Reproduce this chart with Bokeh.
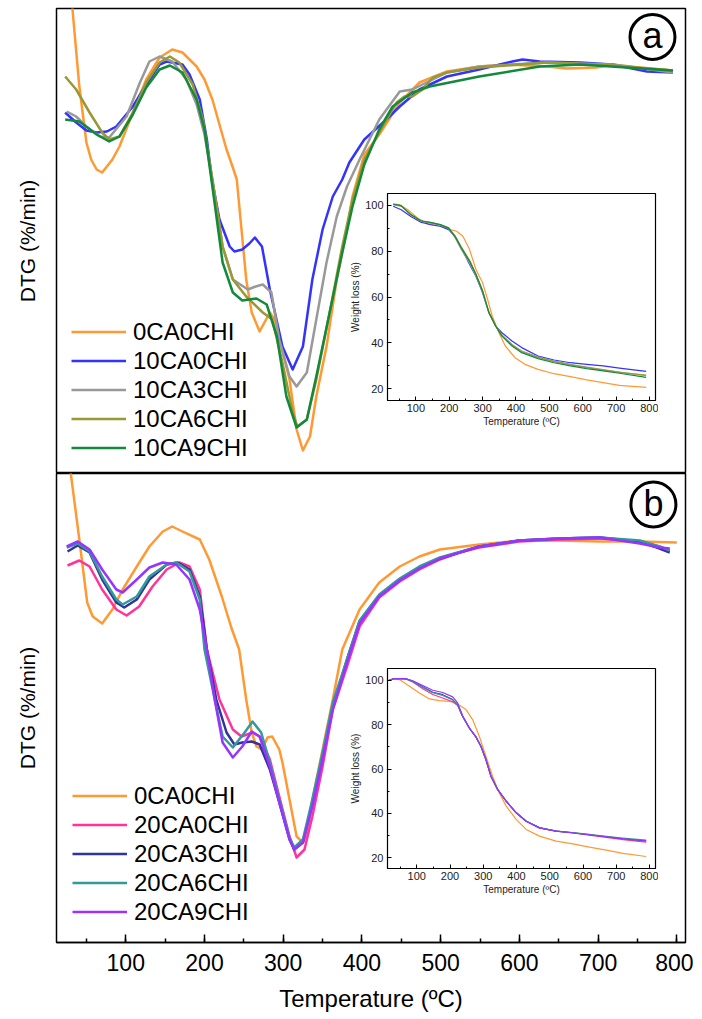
from bokeh.plotting import figure
from bokeh.models import (GridBox, Legend, LegendItem, FixedTicker,
                          SingleIntervalTicker, Range1d)
from bokeh.embed import file_html
from bokeh.resources import INLINE
from bokeh.core.properties import value

FONT = "Liberation Sans"

# ---------------- panel (a): DTG, arbitrary units ----------------
a_labels = ["0CA0CHI", "10CA0CHI", "10CA3CHI", "10CA6CHI", "10CA9CHI"]
a_colors = ["#FF9933", "#3333FF", "#999999", "#999933", "#138A3B"]

T_a_0CA0CHI = [31, 32, 41, 50, 56, 63, 70, 83, 92, 109, 126, 143, 159, 172, 190, 200, 210, 219, 228, 236, 241, 247, 253, 260, 270, 283, 289, 308, 317, 325, 334, 342, 355, 368, 381, 388, 403, 422, 448, 473, 508, 549, 584, 635, 660, 698, 718, 753, 795]
D_a_0CA0CHI = [484, 467, 387, 331, 314, 304, 301, 314, 327, 361, 394, 416, 424, 421, 407, 394, 374, 349, 324, 306, 294, 244, 194, 161, 142, 161, 154, 94, 44, 23, 37, 77, 127, 194, 244, 277, 319, 339, 371, 391, 402, 407, 409, 407, 405, 406, 409, 406, 403]

T_a_10CA0CHI = [23, 37, 50, 63, 76, 88, 109, 126, 143, 152, 172, 181, 194, 203, 209, 219, 232, 238, 248, 257, 264, 273, 283, 299, 312, 325, 337, 350, 363, 375, 384, 403, 431, 448, 473, 508, 549, 591, 604, 626, 677, 718, 762, 795]
D_a_10CA0CHI = [361, 351, 343, 341, 342, 347, 367, 389, 409, 412, 409, 399, 374, 334, 296, 254, 227, 222, 224, 230, 236, 227, 184, 127, 104, 127, 194, 244, 277, 294, 311, 334, 354, 367, 384, 397, 404, 412, 414, 412, 411, 409, 402, 401]

T_a_10CA3CHI = [25, 37, 50, 67, 79, 101, 118, 130, 143, 159, 177, 190, 200, 210, 223, 236, 255, 265, 274, 285, 295, 308, 317, 330, 342, 355, 368, 381, 397, 422, 448, 464, 508, 549, 635, 718, 795]
D_a_10CA3CHI = [362, 357, 347, 337, 336, 357, 391, 412, 417, 412, 394, 369, 339, 294, 227, 194, 184, 187, 189, 181, 134, 97, 87, 101, 154, 211, 257, 287, 314, 354, 382, 384, 401, 407, 411, 409, 401]

T_a_10CA6CHI = [23, 37, 54, 70, 79, 92, 109, 126, 143, 156, 168, 185, 198, 210, 223, 236, 253, 274, 286, 299, 312, 318, 330, 342, 359, 375, 388, 403, 422, 444, 454, 464, 477, 490, 508, 549, 635, 718, 795]
D_a_10CA6CHI = [397, 384, 361, 341, 334, 337, 361, 391, 411, 417, 411, 389, 354, 294, 227, 194, 177, 161, 154, 111, 61, 47, 54, 94, 161, 227, 274, 314, 341, 371, 377, 377, 384, 396, 401, 406, 411, 408, 403]

T_a_10CA9CHI = [23, 41, 63, 79, 92, 109, 126, 143, 156, 172, 190, 200, 210, 223, 236, 248, 257, 266, 279, 292, 304, 317, 330, 342, 359, 375, 388, 403, 422, 439, 464, 486, 549, 626, 677, 795]
D_a_10CA9CHI = [354, 352, 339, 332, 337, 359, 386, 404, 408, 401, 374, 344, 287, 211, 181, 173, 174, 175, 169, 137, 77, 46, 54, 97, 161, 221, 267, 309, 344, 367, 381, 387, 397, 407, 409, 403]

# ---------------- panel (b): DTG, arbitrary units ----------------
b_labels = ["0CA0CHI", "20CA0CHI", "20CA3CHI", "20CA6CHI", "20CA9CHI"]
b_colors = ["#FF9933", "#FF3399", "#333399", "#339999", "#9933FF"]

T_b_0CA0CHI = [29, 30, 41, 51, 58, 70, 83, 96, 114, 130, 147, 159, 172, 194, 206, 222, 234, 244, 253, 260, 266, 273, 280, 286, 295, 299, 308, 317, 325, 330, 337, 350, 363, 375, 397, 422, 448, 473, 499, 549, 600, 651, 702, 753, 800]
D_b_0CA0CHI = [493, 470, 403, 340, 326, 319, 333, 353, 376, 396, 411, 416, 411, 403, 383, 346, 315, 293, 243, 210, 196, 193, 205, 206, 193, 180, 143, 106, 100, 106, 143, 193, 243, 293, 333, 360, 376, 386, 393, 398, 402, 402, 401, 401, 400]

T_b_20CA0CHI = [26, 41, 54, 70, 88, 101, 117, 134, 152, 168, 181, 194, 203, 219, 236, 247, 261, 270, 283, 295, 308, 317, 327, 337, 350, 363, 381, 397, 422, 448, 473, 499, 524, 549, 600, 651, 702, 753, 778, 791]
D_b_20CA0CHI = [377, 382, 376, 353, 333, 327, 336, 356, 373, 380, 376, 353, 293, 243, 213, 206, 210, 206, 183, 146, 106, 85, 93, 126, 176, 233, 276, 316, 345, 361, 373, 383, 390, 395, 401, 403, 404, 401, 396, 392]

T_b_20CA3CHI = [26, 39, 54, 70, 88, 98, 114, 130, 152, 166, 181, 194, 203, 215, 228, 238, 248, 260, 270, 283, 295, 308, 314, 325, 337, 350, 363, 381, 397, 422, 448, 473, 499, 549, 600, 651, 702, 753, 778, 791]
D_b_20CA3CHI = [391, 397, 390, 363, 340, 335, 343, 363, 378, 380, 373, 346, 293, 243, 210, 198, 200, 201, 198, 173, 140, 103, 93, 100, 140, 186, 236, 283, 321, 347, 363, 375, 384, 396, 402, 404, 405, 401, 394, 390]

T_b_20CA6CHI = [25, 39, 54, 70, 88, 96, 114, 130, 152, 164, 181, 194, 200, 213, 223, 236, 251, 261, 272, 283, 295, 308, 314, 325, 337, 350, 363, 381, 397, 422, 448, 473, 499, 549, 600, 651, 702, 753, 778, 791]
D_b_20CA6CHI = [395, 399, 391, 366, 343, 338, 346, 366, 378, 380, 371, 343, 293, 243, 206, 195, 210, 221, 210, 180, 143, 105, 95, 103, 143, 190, 240, 283, 322, 348, 364, 376, 385, 396, 402, 404, 405, 402, 396, 392]

T_b_20CA9CHI = [25, 39, 54, 70, 88, 96, 114, 130, 147, 164, 181, 194, 203, 213, 223, 236, 248, 260, 270, 283, 295, 308, 314, 325, 337, 350, 363, 381, 397, 422, 448, 473, 499, 549, 600, 651, 702, 753, 778, 791]
D_b_20CA9CHI = [396, 401, 393, 373, 353, 350, 363, 375, 380, 378, 363, 333, 293, 243, 200, 185, 196, 211, 206, 176, 140, 103, 93, 100, 136, 183, 233, 280, 319, 346, 362, 374, 384, 396, 402, 404, 405, 399, 395, 394]

# ---------------- inset (a): weight loss (%) ----------------
Ti_a_0CA0CHI = [32, 51, 76, 105, 134, 173, 198, 222, 241, 261, 280, 300, 315, 329, 349, 368, 397, 427, 466, 514, 563, 612, 661, 710, 790]
W_a_0CA0CHI = [100.6, 100.3, 98.1, 94.5, 92.0, 90.9, 89.7, 88.7, 86.5, 80.7, 72.0, 66.2, 58.9, 51.6, 44.4, 38.6, 33.5, 30.6, 28.4, 26.5, 25.2, 23.8, 22.6, 21.4, 20.5]
Ti_a_10CA = [32, 56, 85, 115, 144, 173, 198, 217, 236, 261, 280, 300, 319, 339, 358, 388, 417, 466, 514, 563, 612, 661, 710, 790]
W_a_10CA0CHI = [99.6, 98.1, 95.2, 92.7, 91.6, 90.9, 89.4, 86.5, 81.5, 74.2, 69.1, 61.8, 53.1, 47.3, 44.4, 40.8, 37.9, 34.2, 32.5, 31.3, 30.6, 29.9, 28.9, 27.5]
W_a_10CA3CHI = [100.3, 99.7, 95.8, 93.1, 92.3, 91.4, 89.9, 86.0, 80.8, 74.8, 69.2, 62.0, 53.0, 47.5, 43.4, 39.3, 36.4, 33.9, 32.0, 30.6, 29.4, 28.3, 27.2, 25.6]
W_a_10CA6CHI = [100.4, 99.8, 95.9, 93.2, 92.5, 91.6, 90.3, 86.8, 81.9, 76.0, 70.2, 62.8, 53.4, 47.4, 43.2, 39.0, 36.1, 33.6, 31.8, 30.3, 29.2, 28.1, 27.1, 25.9]
W_a_10CA9CHI = [100.6, 99.9, 96.0, 93.3, 92.6, 91.6, 90.1, 86.5, 81.5, 75.6, 69.8, 62.5, 53.1, 47.3, 42.9, 38.6, 35.7, 33.1, 31.3, 29.9, 28.7, 27.7, 26.7, 24.9]

# ---------------- inset (b): weight loss (%) ----------------
Ti_b_0CA0CHI = [13, 28, 48, 78, 108, 138, 168, 198, 218, 248, 268, 288, 308, 328, 348, 369, 399, 429, 469, 519, 569, 619, 670, 720, 790]
W_b_0CA0CHI = [100.0, 100.6, 100.3, 97.3, 94.3, 91.6, 90.8, 90.5, 89.8, 86.8, 82.3, 74.8, 65.8, 56.8, 49.3, 43.3, 37.3, 32.8, 29.8, 27.5, 26.3, 24.8, 23.5, 22.0, 20.6]
Ti_b_20CA = [18, 33, 68, 88, 118, 148, 178, 208, 223, 238, 258, 278, 293, 308, 323, 343, 369, 399, 429, 469, 519, 569, 619, 670, 720, 790]
W_b_20CA0CHI = [100.0, 100.8, 100.6, 99.2, 96.2, 93.6, 92.0, 90.3, 88.6, 83.6, 78.4, 74.4, 70.2, 64.3, 56.8, 50.8, 45.5, 40.3, 36.5, 33.5, 32.0, 31.2, 30.2, 29.2, 28.2, 27.1]
W_b_20CA3CHI = [100.0, 100.8, 100.6, 99.5, 97.0, 94.6, 93.5, 91.3, 89.0, 83.8, 78.5, 74.5, 70.3, 64.3, 56.8, 50.8, 45.5, 40.3, 36.5, 33.5, 32.0, 31.3, 30.4, 29.5, 28.6, 27.6]
W_b_20CA6CHI = [100.0, 100.8, 100.6, 99.4, 96.8, 94.4, 93.2, 91.1, 88.9, 83.8, 78.5, 74.5, 70.3, 64.3, 56.9, 50.9, 45.6, 40.4, 36.6, 33.6, 32.1, 31.4, 30.6, 29.7, 28.9, 28.0]
W_b_20CA9CHI = [100.0, 100.8, 100.7, 99.8, 97.6, 95.5, 94.5, 92.5, 89.8, 84.0, 78.6, 74.5, 70.3, 64.3, 56.8, 50.8, 45.5, 40.3, 36.5, 33.5, 32.0, 31.3, 30.4, 29.5, 28.6, 27.7]

X_RANGE = (12, 811)


def main_panel(height, ymax, mb_top, mb_bottom, show_x):
    p = figure(width=686, height=height, x_range=Range1d(*X_RANGE),
               y_range=Range1d(0, ymax), output_backend="svg",
               toolbar_location=None, min_border_left=49, min_border_right=8,
               min_border_top=mb_top, min_border_bottom=mb_bottom,
               x_axis_location="below" if show_x else None)
    p.grid.grid_line_color = None
    p.outline_line_color = "black"
    p.outline_line_width = 1.5
    p.outline_line_alpha = 1
    p.background_fill_color = "white"
    p.border_fill_color = "white"
    ya = p.yaxis[0]
    ya.ticker = FixedTicker(ticks=[], minor_ticks=[])
    ya.axis_line_color = None
    ya.major_tick_line_color = None
    ya.minor_tick_line_color = None
    ya.major_label_standoff = 0
    ya.axis_label = "DTG (%/min)"
    ya.axis_label_text_font = FONT
    ya.axis_label_text_font_size = "21px"
    ya.axis_label_text_font_style = "normal"
    ya.axis_label_text_color = "black"
    ya.axis_label_standoff = 18
    if show_x:
        xa = p.xaxis[0]
        xa.ticker = SingleIntervalTicker(interval=100, num_minor_ticks=2)
        xa.major_tick_in = 8
        xa.major_tick_out = 0
        xa.minor_tick_in = 4
        xa.minor_tick_out = 0
        xa.axis_line_width = 1.5
        xa.major_tick_line_width = 1.5
        xa.minor_tick_line_width = 1.5
        xa.major_label_text_font = FONT
        xa.major_label_text_font_size = "23px"
        xa.major_label_text_color = "black"
        xa.major_label_standoff = 11
        xa.axis_label = "Temperature (ºC)"
        xa.axis_label_text_font = FONT
        xa.axis_label_text_font_size = "24px"
        xa.axis_label_text_font_style = "normal"
        xa.axis_label_text_color = "black"
        xa.axis_label_standoff = 11
    return p


def add_curves(p, series, labels, colors, width, legend_loc=None):
    items = []
    for (xs, ys), lab, col in zip(series, labels, colors):
        r = p.line(xs, ys, line_color=col, line_width=width, line_join="round")
        items.append(LegendItem(label=lab, renderers=[r]))
    if legend_loc is not None:
        lg = Legend(items=items, location=legend_loc, label_text_font=FONT,
                    label_text_font_size="24px", label_text_color="black",
                    glyph_width=55, glyph_height=29, label_height=29,
                    label_standoff=7, spacing=0, padding=0, margin=0,
                    border_line_color=None, background_fill_alpha=0)
        p.add_layout(lg)


def panel_letter(p, letter, fx, fy, dy):
    xr, yr = p.x_range, p.y_range
    xc = xr.start + fx * (xr.end - xr.start)
    yc = yr.start + fy * (yr.end - yr.start)
    p.scatter([xc], [yc], marker="circle", size=45, fill_color=None,
              line_color="black", line_width=3)
    p.text([xc], [yc], text=[letter], text_align="center",
           text_baseline="middle", y_offset=dy,
           text_font=value(FONT), text_font_size="36px", text_color="black")


def inset(xr, yr, width, height, mbl, mbr):
    p = figure(width=width, height=height, x_range=Range1d(*xr),
               y_range=Range1d(*yr), output_backend="svg",
               toolbar_location=None, min_border_left=mbl,
               min_border_right=mbr, min_border_top=2, min_border_bottom=30)
    p.grid.grid_line_color = None
    p.outline_line_color = "black"
    p.outline_line_width = 1.2
    p.outline_line_alpha = 1
    p.background_fill_color = "white"
    p.border_fill_alpha = 0
    p.xaxis.ticker = SingleIntervalTicker(interval=100, num_minor_ticks=2)
    p.yaxis.ticker = SingleIntervalTicker(interval=20, num_minor_ticks=2)
    for ax in (p.xaxis[0], p.yaxis[0]):
        ax.major_tick_in = 4
        ax.major_tick_out = 0
        ax.minor_tick_in = 2
        ax.minor_tick_out = 0
        ax.major_label_text_font = FONT
        ax.major_label_text_font_size = "11px"
        ax.major_label_text_color = "#222222"
        ax.axis_label_text_font = FONT
        ax.axis_label_text_font_size = "10px"
        ax.axis_label_text_font_style = "normal"
        ax.axis_label_text_color = "#222222"
        ax.axis_label_standoff = 1
    p.xaxis.major_label_standoff = 3
    p.yaxis.major_label_standoff = 4
    p.xaxis.axis_label = "Temperature (ºC)"
    p.yaxis.axis_label = "Weight loss (%)"
    return p


# top panel
pa = main_panel(466, 465, 1, 0, False)
add_curves(pa, [(T_a_0CA0CHI, D_a_0CA0CHI), (T_a_10CA0CHI, D_a_10CA0CHI),
                (T_a_10CA3CHI, D_a_10CA3CHI), (T_a_10CA6CHI, D_a_10CA6CHI),
                (T_a_10CA9CHI, D_a_10CA9CHI)], a_labels, a_colors, 2.5,
           legend_loc=(15, 11))
panel_letter(pa, "a", 0.9475, 0.9387, -2)

# bottom panel
pb = main_panel(541, 469, 0, 72, True)
add_curves(pb, [(T_b_0CA0CHI, D_b_0CA0CHI), (T_b_20CA0CHI, D_b_20CA0CHI),
                (T_b_20CA3CHI, D_b_20CA3CHI), (T_b_20CA6CHI, D_b_20CA6CHI),
                (T_b_20CA9CHI, D_b_20CA9CHI)], b_labels, b_colors, 2.5,
           legend_loc=(16, 16))
panel_letter(pb, "b", 0.949, 0.934, -1)

# insets
ia = inset((15, 818), (14.8, 105.2), 311, 239, 35, 2)
add_curves(ia, [(Ti_a_0CA0CHI, W_a_0CA0CHI), (Ti_a_10CA, W_a_10CA0CHI),
                (Ti_a_10CA, W_a_10CA3CHI), (Ti_a_10CA, W_a_10CA6CHI),
                (Ti_a_10CA, W_a_10CA9CHI)], a_labels, a_colors, 1.2)

ib = inset((12, 818), (15.2, 105.3), 311, 232, 40, 3)
add_curves(ib, [(Ti_b_0CA0CHI, W_b_0CA0CHI), (Ti_b_20CA, W_b_20CA0CHI),
                (Ti_b_20CA, W_b_20CA3CHI), (Ti_b_20CA, W_b_20CA6CHI),
                (Ti_b_20CA, W_b_20CA9CHI)], b_labels, b_colors, 1.2)

grid = GridBox(children=[(pa, 0, 0, 3, 3), (pb, 3, 0, 3, 3),
                         (ia, 1, 1), (ib, 4, 1)],
               rows=["184px", "239px", "43px", "193px", "232px", "116px"],
               cols=["340px", "311px", "35px"], spacing=0,
               margin=(7, 0, 0, 7))

open("out.html", "w").write(file_html(grid, INLINE))
